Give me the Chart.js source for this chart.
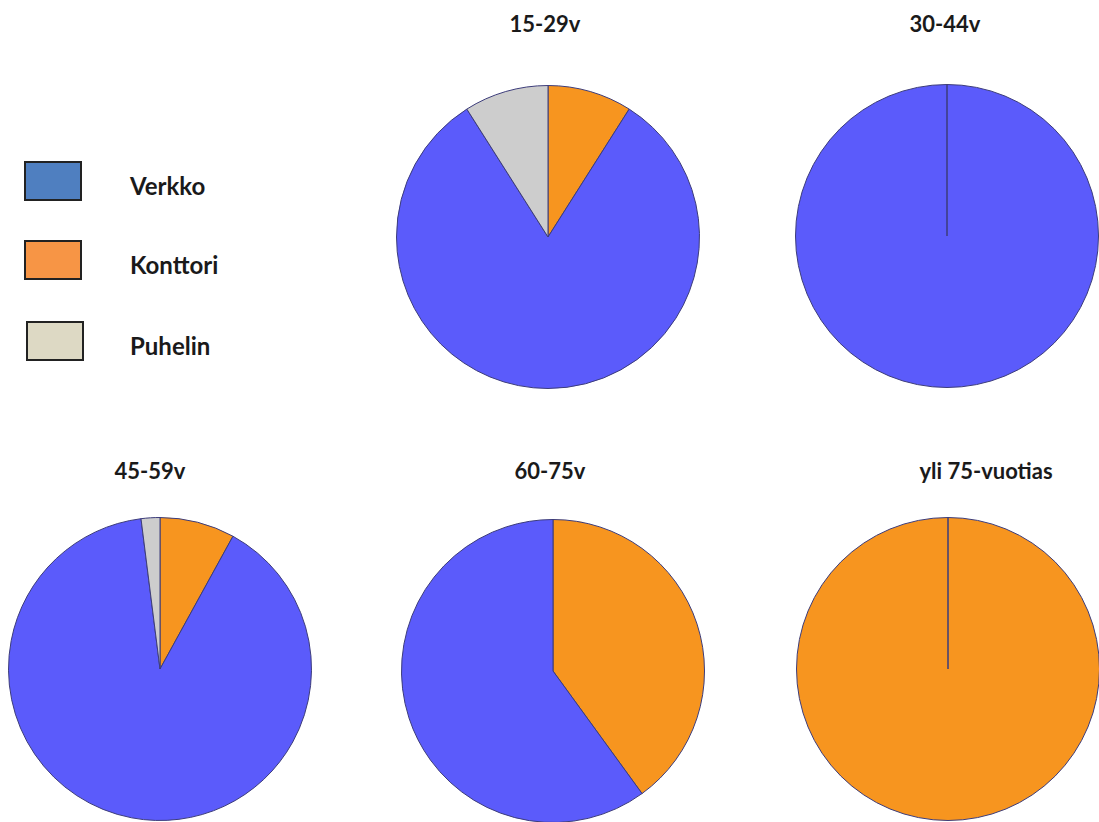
<!DOCTYPE html>
<html>
<head>
<meta charset="utf-8">
<script src="https://cdn.jsdelivr.net/npm/chart.js@4.4.1/dist/chart.umd.min.js"></script>
<style>
  html, body { margin: 0; padding: 0; background: #ffffff; }
  body { width: 1099px; height: 822px; position: relative; overflow: hidden;
         font-family: Lato, "Open Sans", sans-serif; }
  .pie { position: absolute; width: 310px; height: 310px; }
  .title { position: absolute; text-align: center; font-weight: 700;
           font-size: 22px; color: #1a1a1a; transform: translate(-50%, -50%); white-space: nowrap; }
  .legend-box { position: absolute; width: 58px; height: 40px; border: 2px solid #222; box-sizing: border-box; }
  .legend-label { position: absolute; font-weight: 700; font-size: 24px; color: #1a1a1a; transform: translateY(-50%); }
</style>
</head>
<body>
<div id="root"></div>
<script>
// Preferred contact channel by age group (share of respondents, %)
const ageGroups = ['15-29v', '30-44v', '45-59v', '60-75v', 'yli 75-vuotias'];
const channels = ['Verkko', 'Konttori', 'Puhelin'];
const verkko   = [82, 100, 90, 60, 0];
const konttori = [9,   0,  8, 40, 100];
const puhelin  = [9,   0,  2,  0, 0];

// Slice colours and legend swatch colours
const sliceColors  = { Verkko: '#5b5bfb', Konttori: '#f7951f', Puhelin: '#cdcdcd' };
const legendColors = { Verkko: '#4f7fc0', Konttori: '#f79545', Puhelin: '#ddd9c4' };

// Layout: pie centres and title centres
const pieCenters = [[548, 237], [947, 236], [160, 669], [553, 671], [948, 669]];
const titlePos = [[545, 23], [945, 23], [150, 470], [550, 470], [986, 470]];

const root = document.getElementById('root');

ageGroups.forEach((group, i) => {
  const [cx, cy] = pieCenters[i];

  const title = document.createElement('div');
  title.className = 'title';
  title.textContent = group;
  title.style.left = titlePos[i][0] + 'px';
  title.style.top = titlePos[i][1] + 'px';
  root.appendChild(title);

  const wrap = document.createElement('div');
  wrap.className = 'pie';
  wrap.style.left = (cx - 155) + 'px';
  wrap.style.top = (cy - 155) + 'px';
  const canvas = document.createElement('canvas');
  wrap.appendChild(canvas);
  root.appendChild(wrap);

  // Slices run clockwise from 12 o'clock: Konttori, Verkko, Puhelin
  const order = ['Konttori', 'Verkko', 'Puhelin'];
  const values = { Verkko: verkko[i], Konttori: konttori[i], Puhelin: puhelin[i] };

  new Chart(canvas, {
    type: 'pie',
    data: {
      labels: order,
      datasets: [{
        data: order.map(k => values[k]),
        backgroundColor: order.map(k => sliceColors[k]),
        borderColor: '#3c3c7a',
        borderWidth: 1
      }]
    },
    options: {
      responsive: true,
      maintainAspectRatio: false,
      animation: false,
      layout: { padding: 3 },
      plugins: { legend: { display: false }, tooltip: { enabled: false }, title: { display: false } }
    }
  });
});

// Legend
const legendY = [181, 260, 341];
channels.forEach((name, i) => {
  const box = document.createElement('div');
  box.className = 'legend-box';
  box.style.left = (name === 'Puhelin' ? 26 : 24) + 'px';
  box.style.top = (legendY[i] - 20) + 'px';
  box.style.background = legendColors[name];
  root.appendChild(box);

  const label = document.createElement('div');
  label.className = 'legend-label';
  label.textContent = name;
  label.style.left = '130px';
  label.style.top = (legendY[i] + 4) + 'px';
  root.appendChild(label);
});
</script>
</body>
</html>
